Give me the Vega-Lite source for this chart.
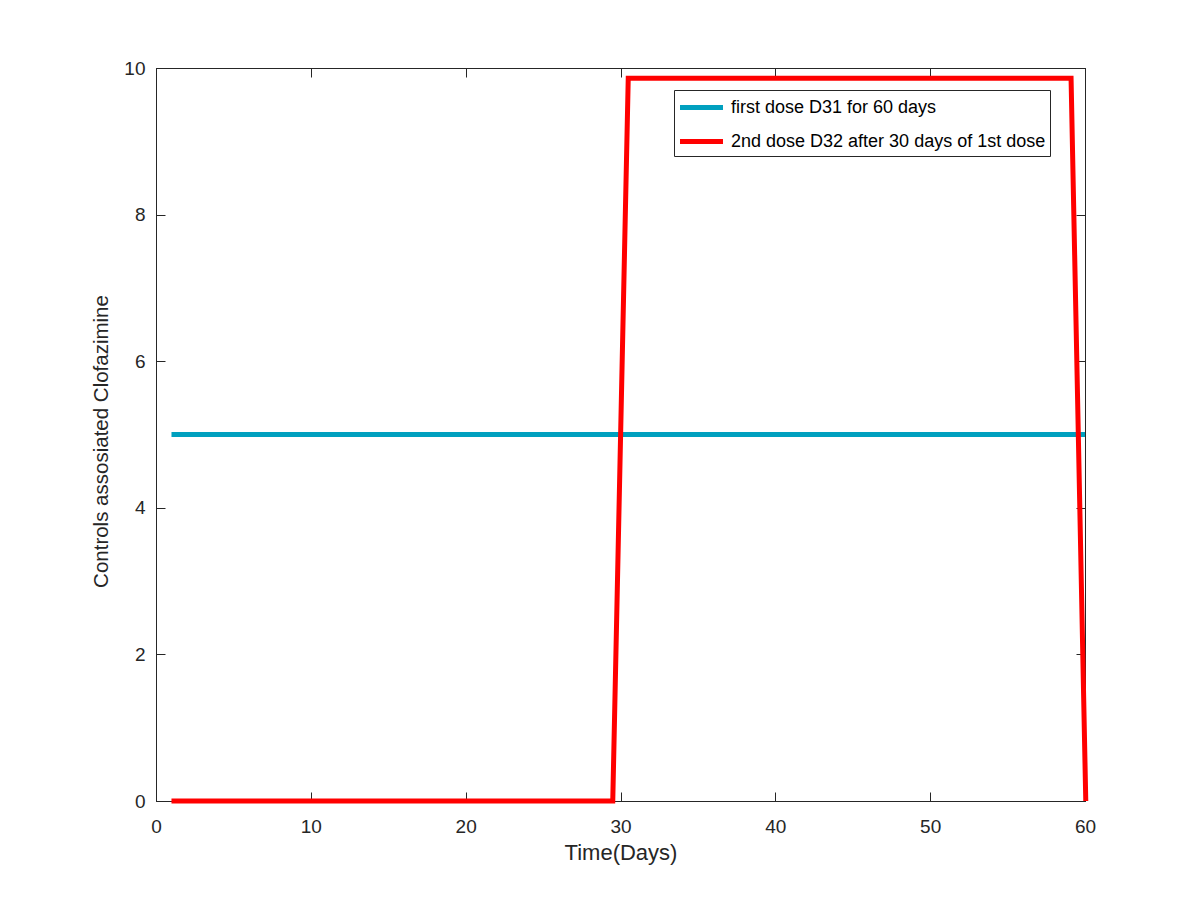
{
  "$schema": "https://vega.github.io/schema/vega-lite/v6.json",
  "width": 929,
  "height": 733,
  "autosize": {"type": "none"},
  "padding": {"left": 156, "top": 68, "right": 115, "bottom": 99},
  "background": "white",
  "config": {
    "font": "Liberation Sans",
    "view": {"stroke": "#262626", "strokeWidth": 1},
    "axis": {
      "grid": false,
      "domainColor": "#262626",
      "tickColor": "#262626",
      "labelColor": "#262626",
      "titleColor": "#262626",
      "labelFont": "Liberation Sans",
      "titleFont": "Liberation Sans",
      "labelFontSize": 19,
      "titleFontSize": 21,
      "titleFontWeight": "normal",
      "tickSize": -9,
      "tickWidth": 1,
      "labelFlush": false
    }
  },
  "data": {
    "values": [
      {"series": "first dose D31 for 60 days", "day": 1, "value": 5},
      {"series": "first dose D31 for 60 days", "day": 60, "value": 5},
      {"series": "2nd dose D32 after 30 days of 1st dose", "day": 1, "value": 0},
      {"series": "2nd dose D32 after 30 days of 1st dose", "day": 29.5, "value": 0},
      {"series": "2nd dose D32 after 30 days of 1st dose", "day": 30.5, "value": 9.86},
      {"series": "2nd dose D32 after 30 days of 1st dose", "day": 59.1, "value": 9.86},
      {"series": "2nd dose D32 after 30 days of 1st dose", "day": 60.05, "value": 0}
    ]
  },
  "layer": [
    {
      "mark": {"type": "line", "strokeWidth": 5, "clip": false},
      "encoding": {
        "x": {
          "field": "day", "type": "quantitative",
          "scale": {"domain": [0, 60], "nice": false, "zero": false},
          "axis": {"title": "Time(Days)", "titleFontSize": 22, "values": [0, 10, 20, 30, 40, 50, 60], "labelPadding": 25, "titlePadding": 6}
        },
        "y": {
          "field": "value", "type": "quantitative",
          "scale": {"domain": [0, 10], "nice": false},
          "axis": {"title": "Controls assosiated Clofazimine", "titleFontSize": 20.5, "titleY": 373, "values": [0, 2, 4, 6, 8, 10], "labelPadding": 20, "titlePadding": 12}
        },
        "color": {
          "field": "series", "type": "nominal",
          "scale": {
            "domain": ["first dose D31 for 60 days", "2nd dose D32 after 30 days of 1st dose"],
            "range": ["#00a0bf", "#ff0000"]
          },
          "legend": {
            "title": null,
            "orient": "none",
            "legendX": 518,
            "legendY": 22,
            "strokeColor": "#262626",
            "fillColor": "white",
            "padding": 4,
            "symbolType": "M-2,0H2",
            "symbolSize": 462,
            "symbolStrokeWidth": 5,
            "symbolOffset": 10,
            "labelOffset": 16,
            "labelFontSize": 18,
            "labelLimit": 600,
            "labelColor": "#000000",
            "labelFont": "Liberation Sans",
            "rowPadding": 10
          }
        }
      }
    },
    {
      "mark": {"type": "line", "opacity": 0},
      "encoding": {
        "x": {
          "field": "day", "type": "quantitative",
          "axis": {"orient": "top", "title": null, "labels": false, "values": [0, 10, 20, 30, 40, 50, 60]}
        },
        "y": {
          "field": "value", "type": "quantitative",
          "axis": {"orient": "right", "title": null, "labels": false, "values": [0, 2, 4, 6, 8, 10]}
        },
        "detail": {"field": "series"}
      }
    }
  ],
  "resolve": {"axis": {"x": "independent", "y": "independent"}}
}
